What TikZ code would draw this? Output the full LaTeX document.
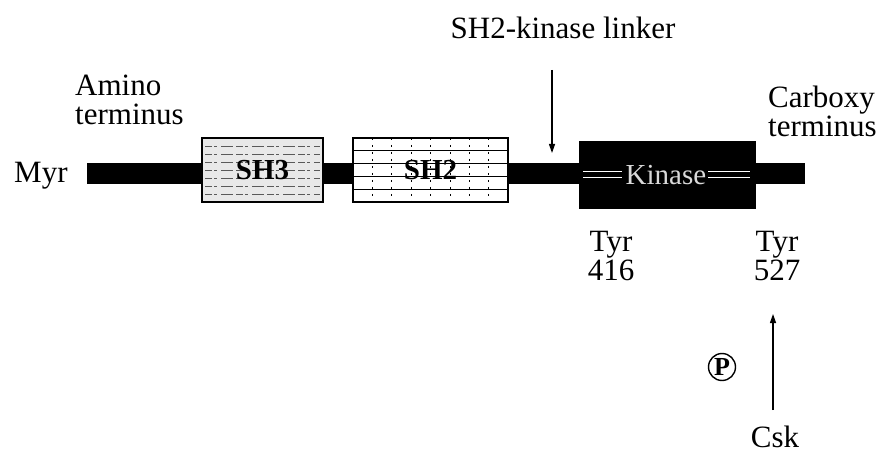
\documentclass[tikz,border=0pt]{standalone}
\usepackage{fontspec}
\setmainfont{Liberation Serif}
\usetikzlibrary{arrows.meta}
\begin{document}
\begin{tikzpicture}[x=1pt,y=-1pt,
  lbl/.style={font=\fontsize{31}{29}\selectfont, inner sep=0pt, align=left},
  dom/.style={draw=black, line width=1.3pt, inner sep=0pt, font=\fontsize{29}{30}\selectfont\bfseries},
  sh3box/.style={dom, fill=gray!18, minimum width=121pt, minimum height=64pt,
    path picture={
      \foreach \k in {1,...,7}{
        \draw[gray!70!black, line width=0.9pt, dash pattern=on 7pt off 2pt on 3pt off 4pt on 12pt off 3pt]
          ([xshift=3pt,yshift=-\k*8pt]path picture bounding box.north west) --
          ([xshift=-3pt,yshift=-\k*8pt]path picture bounding box.north east);}
    }},
  sh2box/.style={dom, fill=white, minimum width=155pt, minimum height=64pt,
    path picture={
      \foreach \k in {1,...,4}{
        \draw[black, line width=0.8pt]
          ([yshift=-\k*12.8pt]path picture bounding box.north west) --
          ([yshift=-\k*12.8pt]path picture bounding box.north east);}
      \foreach \k in {1,...,7}{
        \draw[black, line width=0.8pt, dash pattern=on 2pt off 5pt]
          ([xshift=\k*19.4pt]path picture bounding box.north west) --
          ([xshift=\k*19.4pt]path picture bounding box.south west);}
    }},
  kinbox/.style={dom, fill=black, minimum width=175pt, minimum height=67pt},
  arr/.style={-{Triangle[length=9pt,width=6pt]}, line width=1.2pt}
]
\useasboundingbox (0,0) rectangle (890,462);
% backbone
\fill[black] (87,163) rectangle (805,184);
% domains
\node[sh3box] (sh3) at (262.5,170) {SH3};
\node[sh2box] (sh2) at (430.5,170) {SH2};
\node[kinbox] (kin) at (667.5,175) {};
\draw[white, line width=1pt] (583,172) -- (622,172) (583,178) -- (622,178)
  (708,172) -- (750,172) (708,178) -- (750,178);
\node[text=gray!30, font=\fontsize{29}{30}\selectfont, inner sep=0pt] (kintxt) at (666,175) {Kinase};
% labels
\node[lbl, anchor=west] (myr) at (14,176) {Myr};
\node[lbl, anchor=west] (amino) at (75,100) {Amino\\terminus};
\node[lbl, anchor=west] (carboxy) at (768,111) {Carboxy\\terminus};
\node[lbl, anchor=center] (linker) at (563,28) {SH2-kinase linker};
\node[lbl, align=center] (tyr416) at (611,256) {Tyr\\416};
\node[lbl, align=center] (tyr527) at (777,256) {Tyr\\527};
\node[lbl] (csk) at (775,437) {Csk};
\node[draw, circle, line width=1.4pt, minimum size=27pt, inner sep=0pt,
  font=\fontsize{26}{26}\selectfont\bfseries] (p) at (722,367) {P};
% arrows
\coordinate (linktop) at (552,70);
\coordinate (linktip) at (552,153);
\draw[arr] (linktop) -- (linktip);
\coordinate (csktail) at (773,410);
\coordinate (csktip) at (773,314);
\draw[arr] (csktail) -- (csktip);
\end{tikzpicture}
\end{document}
